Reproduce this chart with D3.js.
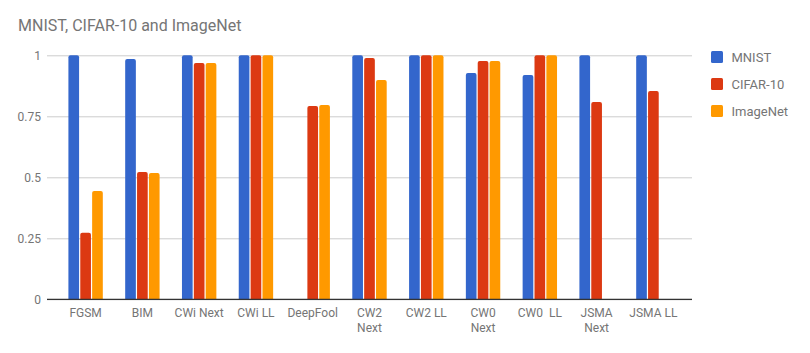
<!DOCTYPE html>
<html>
<head>
<meta charset="utf-8">
<script src="https://cdn.jsdelivr.net/npm/d3@7"></script>
<style>
  body { margin: 0; background: #fff; }
  text { font-family: Roboto, "Noto Sans", sans-serif; }
</style>
</head>
<body>
<svg id="chart"></svg>
<script>
// Data
var categories = ["FGSM", "BIM", "CWi Next", "CWi LL", "DeepFool", "CW2\nNext", "CW2 LL", "CW0\nNext", "CW0  LL", "JSMA\nNext", "JSMA LL"];
var seriesNames = ["MNIST", "CIFAR-10", "ImageNet"];
var mnist    = [1, 0.985, 1, 1, null, 1, 1, 0.927, 0.919, 1, 1];
var cifar10  = [0.273, 0.522, 0.968, 1, 0.792, 0.989, 1, 0.977, 1, 0.809, 0.854];
var imagenet = [0.444, 0.518, 0.968, 1, 0.796, 0.899, 1, 0.977, 1, null, null];
var yTicks = [0, 0.25, 0.5, 0.75, 1];

var config = {
  width: 810,
  height: 353,
  left: 47,
  right: 692,
  top: 55.3,
  bottom: 299.3,
  colors: ["#3366cc", "#dc3912", "#ff9900"],
  textColor: "#757575",
  groupWidth: 34.4,
  cornerRadius: 2
};

var seriesValues = [mnist, cifar10, imagenet];

var svg = d3.select("#chart")
  .attr("width", config.width)
  .attr("height", config.height);

// Scales
var x = d3.scalePoint()
  .domain(categories)
  .range([config.left, config.right])
  .padding(0.68);

var xInner = d3.scaleBand()
  .domain(seriesNames)
  .range([-config.groupWidth / 2, config.groupWidth / 2])
  .paddingInner(0.1);

var y = d3.scaleLinear()
  .domain([0, 1])
  .range([config.bottom, config.top]);

// Title
svg.append("text")
  .attr("x", 18)
  .attr("y", 31)
  .attr("font-size", "16px")
  .attr("fill", config.textColor)
  .text("MNIST, CIFAR-10 and ImageNet");

// Gridlines + y tick labels
var yAxis = svg.append("g")
  .attr("transform", "translate(" + config.left + ",0)")
  .call(d3.axisLeft(y).tickValues(yTicks).tickSize(-(config.right - config.left)).tickPadding(6)
    .tickFormat(function(d) { return d === 0 || d === 1 ? d : String(d).replace(/^0/, "0"); }));
yAxis.select(".domain").remove();
yAxis.selectAll(".tick line").attr("stroke", "#cccccc");
yAxis.selectAll(".tick text")
  .attr("fill", config.textColor)
  .attr("font-size", "12px")
  .attr("font-family", "Roboto, sans-serif");

// Bars with rounded tops
function barPath(x0, w, yTop, yBase, r) {
  var h = yBase - yTop;
  r = Math.min(r, h, w / 2);
  return "M" + x0 + "," + yBase +
    "V" + (yTop + r) +
    "Q" + x0 + "," + yTop + " " + (x0 + r) + "," + yTop +
    "H" + (x0 + w - r) +
    "Q" + (x0 + w) + "," + yTop + " " + (x0 + w) + "," + (yTop + r) +
    "V" + yBase + "Z";
}

var groups = svg.append("g").selectAll("g")
  .data(categories)
  .join("g")
  .attr("transform", function(d) { return "translate(" + x(d) + ",0)"; });

groups.selectAll("path")
  .data(function(d, i) {
    return seriesNames.map(function(s, j) { return { series: s, idx: j, value: seriesValues[j][i] }; })
      .filter(function(e) { return e.value != null; });
  })
  .join("path")
  .attr("fill", function(d) { return config.colors[d.idx]; })
  .attr("d", function(d) {
    return barPath(xInner(d.series), xInner.bandwidth(), y(d.value), y(0), config.cornerRadius);
  });

// Baseline
svg.append("line")
  .attr("x1", config.left)
  .attr("x2", config.right)
  .attr("y1", y(0))
  .attr("y2", y(0))
  .attr("stroke", "#333333")
  .attr("stroke-width", 1.2);

// X labels (some wrap to two lines)
var xLabels = svg.append("g").selectAll("text")
  .data(categories)
  .join("text")
  .attr("text-anchor", "middle")
  .attr("font-size", "12px")
  .attr("fill", config.textColor)
  .attr("xml:space", "preserve")
  .style("white-space", "pre");

xLabels.selectAll("tspan")
  .data(function(d) { return d.split("\n").map(function(t) { return { text: t, cat: d }; }); })
  .join("tspan")
  .attr("x", function(d) { return x(d.cat); })
  .attr("y", function(d, i) { return 317 + i * 14.5; })
  .text(function(d) { return d.text; });

// Legend
var legend = svg.append("g").selectAll("g")
  .data(seriesNames)
  .join("g")
  .attr("transform", function(d, i) { return "translate(711," + (51 + i * 27) + ")"; });

legend.append("rect")
  .attr("width", 12)
  .attr("height", 12)
  .attr("rx", 1.5)
  .attr("fill", function(d, i) { return config.colors[i]; });

legend.append("text")
  .attr("x", 20.5)
  .attr("y", 10.5)
  .attr("font-size", "13px")
  .attr("fill", config.textColor)
  .text(function(d) { return d; });
</script>
</body>
</html>
